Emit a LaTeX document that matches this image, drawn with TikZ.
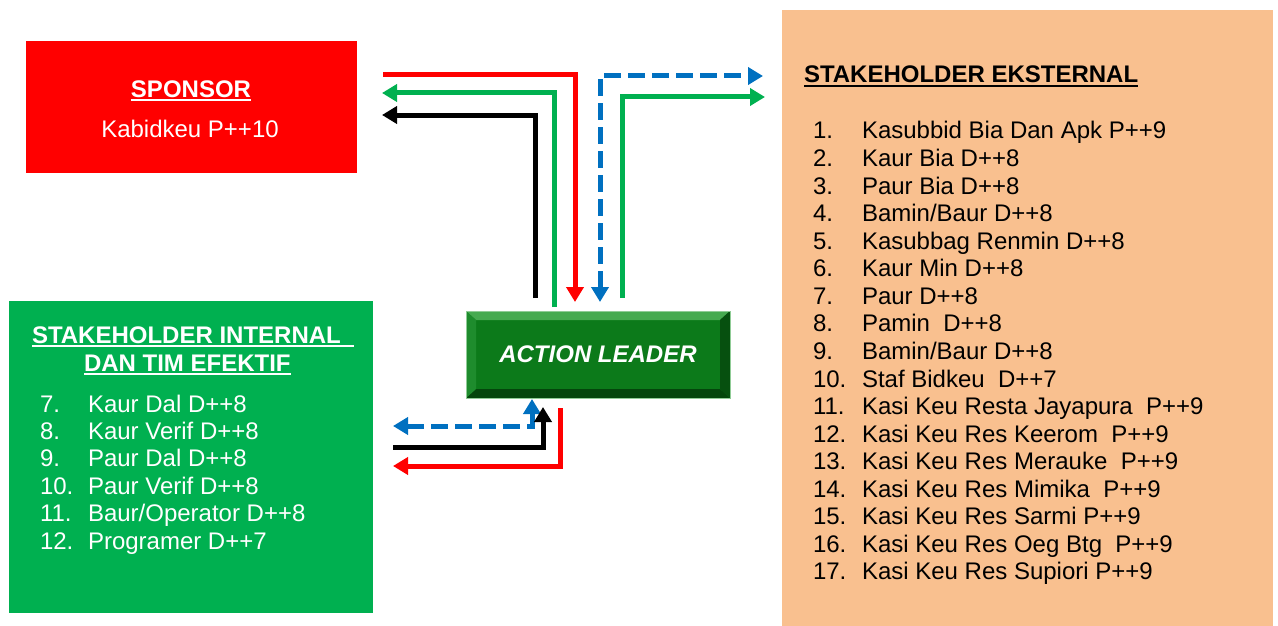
\documentclass[tikz,border=0pt]{standalone}
\usepackage{fontspec}
\setmainfont{Liberation Sans}
\usetikzlibrary{arrows.meta}
\definecolor{sred}{RGB}{255,0,0}
\definecolor{sgreen}{RGB}{0,176,80}
\definecolor{sblue}{RGB}{0,112,192}
\definecolor{sorange}{RGB}{249,192,143}
\definecolor{lgreen}{RGB}{12,122,26}
\definecolor{lgreenhi}{RGB}{70,170,80}
\definecolor{lgreenlo}{RGB}{4,70,12}
\definecolor{lgreenmid}{RGB}{30,140,45}
\newcommand\myul[2][0pt]{\setbox0\hbox{#2}\rlap{\rule[-4pt]{\dimexpr\wd0+#1\relax}{2pt}}\box0}
\begin{document}
\begin{tikzpicture}[x=1pt,y=-1pt,
  box/.style={anchor=north west,inner sep=0pt,outer sep=0pt,draw=none},
  txt/.style={inner sep=0pt,outer sep=0pt,font=\fontsize{24}{27.5}\selectfont},
  arr/.style={line width=5pt,line join=miter,-{Triangle[length=15pt,width=17pt]}},
  darr/.style={line width=5pt,line join=miter,{Triangle[length=15pt,width=17pt]}-{Triangle[length=15pt,width=17pt]},dash pattern=on 17pt off 7pt}]
\useasboundingbox (0,0) rectangle (1278,626);
% boxes
\node[box,fill=sred,minimum width=331pt,minimum height=132pt] (sponsor) at (26,41) {};
\node[box,fill=sorange,minimum width=491pt,minimum height=616pt] (ext) at (782,10) {};
\node[box,fill=sgreen,minimum width=364pt,minimum height=312pt] (int) at (9,301) {};
\node[box,fill=lgreen,minimum width=264pt,minimum height=87pt] (leader) at (466,311) {};
% bevel of action leader
\fill[lgreenhi] (leader.north west) -- (leader.north east) -- ([shift={(-10pt,-9pt)}]leader.north east) -- ([shift={(10pt,-9pt)}]leader.north west) -- cycle;
\fill[lgreenlo] (leader.south west) -- (leader.south east) -- ([shift={(-10pt,9pt)}]leader.south east) -- ([shift={(10pt,9pt)}]leader.south west) -- cycle;
\fill[lgreenmid] (leader.north west) -- ([shift={(10pt,-9pt)}]leader.north west) -- ([shift={(10pt,9pt)}]leader.south west) -- (leader.south west) -- cycle;
\fill[lgreenlo!80!lgreen] (leader.north east) -- ([shift={(-10pt,-9pt)}]leader.north east) -- ([shift={(-10pt,9pt)}]leader.south east) -- (leader.south east) -- cycle;
\draw[lgreenhi!60!white,line width=0.8pt] (leader.north west) rectangle (leader.south east);
\node[txt,text=white,font=\fontsize{24}{27.5}\selectfont\bfseries\itshape] (lt) at (leader.center) {ACTION LEADER};
% sponsor text
\node[txt,text=white,anchor=base] (st) at (191,97) {\bfseries\myul{SPONSOR}};
\node[txt,text=white,anchor=base] (sn) at (190,137) {Kabidkeu P++10};
% external text
\node[txt,anchor=base west] (et) at (804,83) {\bfseries\myul{STAKEHOLDER EKSTERNAL}};
\foreach \t [count=\i] in {Kasubbid Bia Dan Apk P++9, Kaur Bia D++8, Paur Bia D++8, Bamin/Baur D++8, Kasubbag Renmin D++8, Kaur Min D++8, Paur D++8, Pamin~ D++8, Bamin/Baur D++8, Staf Bidkeu~ D++7, Kasi Keu Resta Jayapura~ P++9, Kasi Keu Res Keerom~ P++9, Kasi Keu Res Merauke~ P++9, Kasi Keu Res Mimika~ P++9, Kasi Keu Res Sarmi P++9, Kasi Keu Res Oeg Btg~ P++9, Kasi Keu Res Supiori P++9}{
  \node[txt,anchor=base west] (en\i) at (813,{139+27.56*(\i-1)}) {\i.};
  \node[txt,anchor=base west] (et\i) at (862,{139+27.56*(\i-1)}) {\t};
}
% internal text
\node[txt,text=white,anchor=base west] (it1) at (32,343) {\bfseries\myul[13pt]{STAKEHOLDER INTERNAL}};
\node[txt,text=white,anchor=base west] (it2) at (84,371) {\bfseries\myul{DAN TIM EFEKTIF}};
\foreach \t [count=\i from 7] in {Kaur Dal D++8, Kaur Verif D++8, Paur Dal D++8, Paur Verif D++8, Baur/Operator D++8, Programer D++7}{
  \node[txt,text=white,anchor=base west] (in\i) at (40,{412+27.4*(\i-7)}) {\i.};
  \node[txt,text=white,anchor=base west] (il\i) at (88,{412+27.4*(\i-7)}) {\t};
}
% connector end points
\coordinate (a1) at (383,75);   \coordinate (a2) at (575,302);
\coordinate (b1) at (554,307);  \coordinate (b2) at (382,93);
\coordinate (c1) at (535,298);  \coordinate (c2) at (382,115);
\coordinate (d1) at (600,302);  \coordinate (d2) at (763,76);
\coordinate (e1) at (622,298);  \coordinate (e2) at (765,97);
\coordinate (f1) at (393,426);  \coordinate (f2) at (532,399);
\coordinate (g1) at (393,447);  \coordinate (g2) at (543,407);
\coordinate (h1) at (560,408);  \coordinate (h2) at (393,466);
% top connectors
\draw[arr,sred] (a1) -| (a2);
\draw[arr,sgreen] (b1) |- (b2);
\draw[arr,black] (c1) |- (c2);
\draw[darr,sblue] (d1) |- (d2);
\draw[arr,sgreen] (e1) |- (e2);
% bottom connectors
\draw[darr,sblue] (f1) -| (f2);
\draw[arr,black] (g1) -| (g2);
\draw[arr,sred] (h1) |- (h2);
\end{tikzpicture}
\end{document}
